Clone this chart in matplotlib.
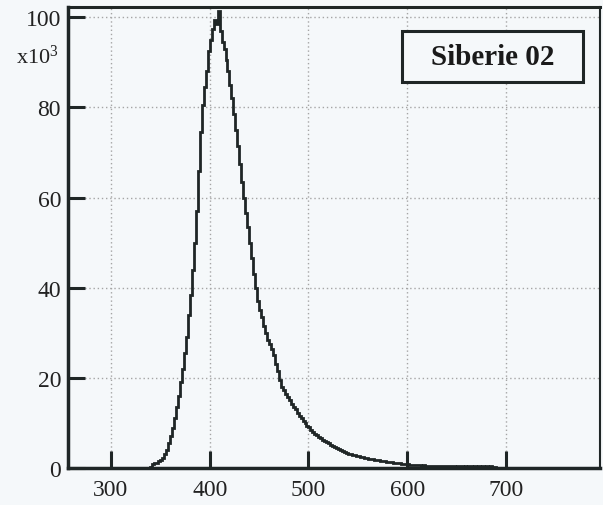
import numpy as np
import matplotlib
matplotlib.use("Agg")
import matplotlib.pyplot as plt
from matplotlib.patches import Rectangle

# histogram: bin width 2, first edge 340 (counts in thousands)
bin_start = 340
bin_width = 2
counts_k = [
    0.2, 0.8, 1.0, 1.2, 1.5, 1.8, 2.3, 3.0, 4.0, 5.5,
    7.2, 8.8, 11.0, 13.5, 16.0, 19.0, 22.0, 25.5, 29.0, 34.0,
    38.5, 44.0, 50.0, 57.0, 66.0, 74.5, 80.5, 84.5, 88.0, 92.5,
    95.0, 97.5, 99.5, 98.5, 101.5, 97.0, 94.5, 93.0, 90.5, 88.0,
    85.0, 82.0, 78.5, 75.0, 71.5, 67.5, 63.5, 60.0, 56.5, 53.5,
    50.0, 46.5, 43.0, 40.0, 37.0, 35.0, 33.5, 31.5, 30.0, 28.5,
    27.5, 26.5, 25.0, 23.0, 21.5, 19.5, 18.0, 17.3, 16.5, 15.8,
    15.0, 14.3, 13.6, 13.0, 12.3, 11.6, 11.0, 10.5, 10.0, 9.4,
    9.0, 8.4, 8.0, 7.6, 7.3, 6.9, 6.6, 6.3, 6.0, 5.7,
    5.5, 5.2, 4.9, 4.7, 4.5, 4.2, 4.0, 3.8, 3.6, 3.4,
    3.2, 3.1, 2.9, 2.8, 2.7, 2.6, 2.5, 2.4, 2.3, 2.2,
    2.1, 2.0, 1.9, 1.8, 1.75, 1.7, 1.6, 1.55, 1.5, 1.4,
    1.35, 1.3, 1.25, 1.2, 1.1, 1.05, 1.0, 0.95, 0.9, 0.85,
    0.8, 0.75, 0.7, 0.65, 0.6, 0.6, 0.6, 0.55, 0.6, 0.55,
    0.55, 0.55, 0.5, 0.55, 0.5, 0.5, 0.5, 0.45, 0.5, 0.45,
    0.45, 0.45, 0.4, 0.45, 0.3, 0.45, 0.35, 0.4, 0.3, 0.45,
    0.3, 0.4, 0.35, 0.3, 0.4, 0.25, 0.35, 0.3, 0.4, 0.3,
    0.35, 0.25, 0.35, 0.3, 0.25, 0.1,
]
x_ticks = [300, 400, 500, 600, 700]
y_ticks = [0, 20, 40, 60, 80, 100]
label = "Siberie 02"

plt.rcParams['font.family'] = ['Liberation Serif', 'DejaVu Serif']
plt.rcParams['mathtext.default'] = 'regular'

bg = '#f5f8fa'
ink = '#1f2626'
fig = plt.figure(figsize=(6.03, 5.06), dpi=100, facecolor=bg)
ax = fig.add_axes([68/603, 37/506, 532/603, 461/506])
ax.set_facecolor(bg)

edges = bin_start + bin_width * np.arange(len(counts_k) + 1)
ax.stairs(counts_k, edges, color=ink, linewidth=2.0)
ax.plot([256, bin_start], [0, 0], color=ink, linewidth=2.0)

ax.set_xlim(256.5, 795.2)
ax.set_ylim(0, 102.3)
ax.set_xticks(x_ticks)
ax.set_yticks(y_ticks)
ax.set_xticklabels([str(v) for v in x_ticks])
ax.set_yticklabels([str(v) for v in y_ticks])
ax.tick_params(axis='both', direction='in', length=12, width=2.2, color=ink,
               labelsize=17, labelcolor='#222222')
ax.tick_params(axis='x', pad=8)
ax.tick_params(axis='y', pad=5)
ax.grid(True, color='#a5a5a5', linestyle=(0, (1, 2)), linewidth=1.0)
ax.set_axisbelow(True)

for side, lw in [('left', 2.5), ('bottom', 2.5), ('top', 2.2), ('right', 1.5)]:
    ax.spines[side].set_linewidth(lw)
    ax.spines[side].set_color(ink)

fig.text(37/603, 1 - 57/506, 'x10$^{3}$', ha='center', va='center',
         fontsize=16, color='#222222')

rect = Rectangle((0.628, 0.837), 0.340, 0.111, transform=ax.transAxes,
                 facecolor=bg, edgecolor=ink, linewidth=2.2, zorder=5)
ax.add_patch(rect)
ax.text(0.798, 0.892, label, transform=ax.transAxes, ha='center', va='center',
        fontsize=21, fontweight='bold', color='#1a1a1a', zorder=6)

fig.savefig('out.png', dpi=100, facecolor=bg)
